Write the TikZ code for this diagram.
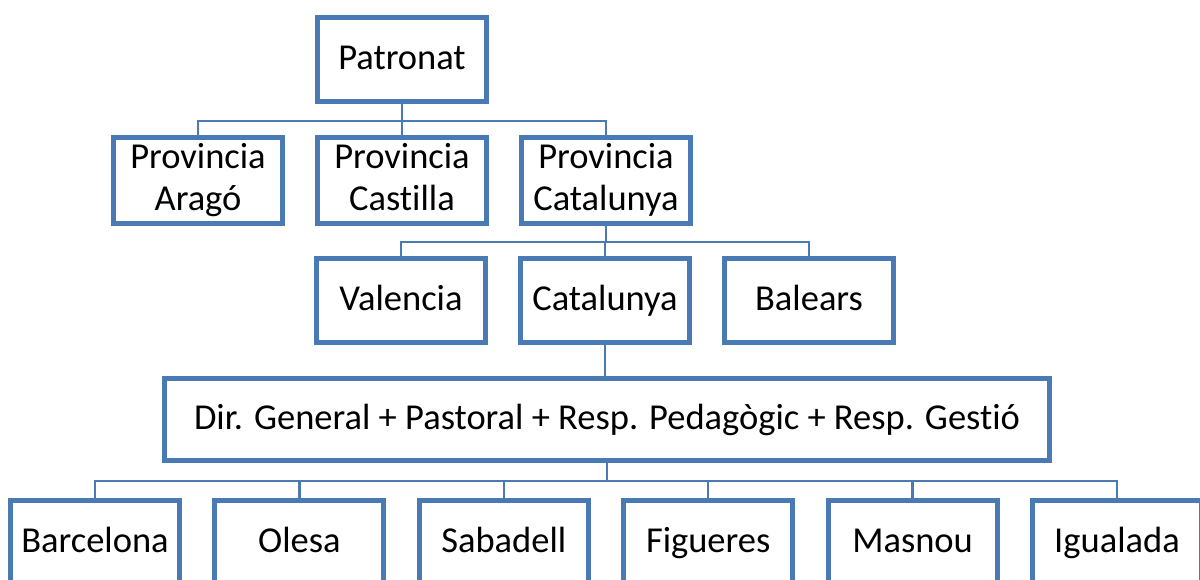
\documentclass[tikz,border=0pt]{standalone}
\usepackage{fontspec}
\setmainfont{Carlito}[Ligatures=NoCommon]
\usetikzlibrary{positioning}
\usetikzlibrary{shadows}
\definecolor{orgblue}{RGB}{74,122,180}

\begin{document}
\begin{tikzpicture}[
    x=1pt,y=-1pt,
    box/.style={
        draw=orgblue,line width=5pt,fill=white,
        minimum width=169pt,minimum height=84pt,
        inner sep=0pt,align=center,
        text height=26pt,text depth=6pt,
        font=\fontsize{36.5}{42}\selectfont,
        drop shadow={opacity=.25,shadow xshift=1pt,shadow yshift=-1.5pt}},
    twoline/.style={minimum height=86pt,text height=66pt,text depth=7pt},
    link/.style={draw=orgblue,line width=2.5pt},
]
    \path[use as bounding box] (0,0) rectangle (1200,579);
    \clip (0,0) rectangle (1200,579);

    \node[box] (Pat) at (402,59.5) {Patronat};

    % provincies
    \node[box,twoline] (Prov2) at (402,180.5) {Provincia\\Castilla};
    \node[box,twoline] (Prov1) [left=30pt of Prov2] {Provincia\\Arag\'o};
    \node[box,twoline] (Prov3) [right=30pt of Prov2] {Provincia\\Catalunya};
    \foreach \n in {1,2,3}{%
        \draw[link] (Pat.south) -- ++(0,17) -| (Prov\n.north);
    }

    % regions
    \node[box] (Reg2) at (605,300.5) {Catalunya};
    \node[box] (Reg1) [left=30pt of Reg2] {Valencia};
    \node[box] (Reg3) [right=30pt of Reg2] {Balears};
    \foreach \n in {1,2,3}{%
        \draw[link] (Prov3.south) -- ++(0,16) -| (Reg\n.north);
    }

    \node[box,minimum width=885pt,minimum height=82pt] (Dir) at (607,419.5)
        {Dir. General + Pastoral + Resp. Pedag\`ogic + Resp. Gesti\'o};
    \draw[link] (Reg2.south) -- (Reg2.south |- Dir.north);

    % escoles
    \node[box] (Col1) at (95,542.5) {Barcelona};
    \foreach \name[
        count = \n from 2,
        evaluate = \n as \prev using int(\n-1),
    ] in {Olesa,Sabadell,Figueres,Masnou,Igualada}{%
        \node[box] (Col\n) [right=30.4pt of Col\prev] {\name};
    }
    \foreach \n in {1,...,6}{%
        \draw[link] (Dir.south) -- ++(0,18) -| (Col\n.north);
    }
\end{tikzpicture}
\end{document}
